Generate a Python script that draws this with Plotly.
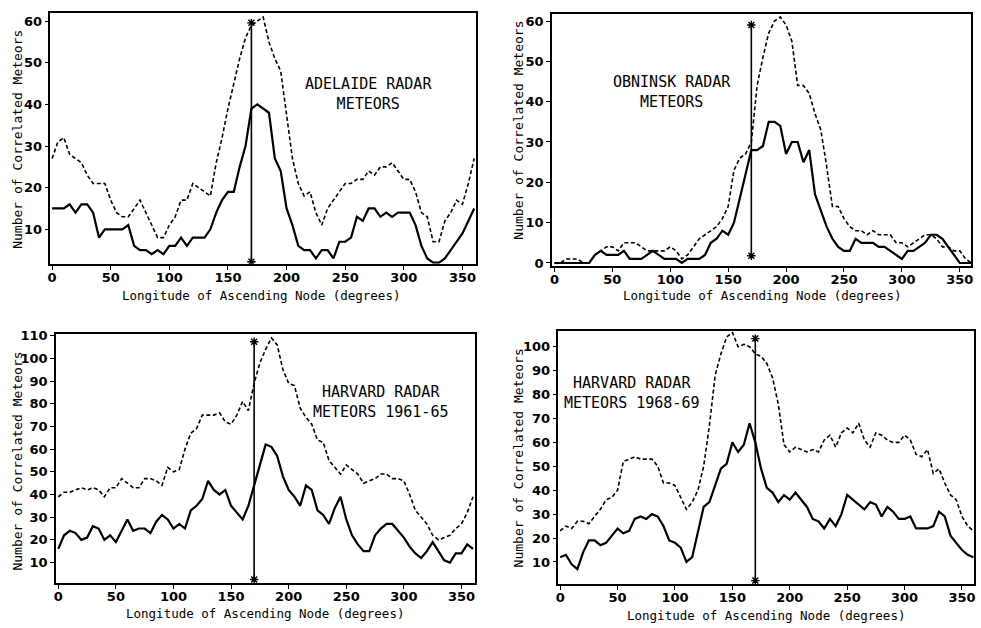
import plotly.graph_objects as go

LON = list(range(0, 365, 5))

adelaide_solid = [15, 15, 15, 16, 14, 16, 16, 14, 8, 10,
                  10, 10, 10, 11, 6, 5, 5, 4, 5, 4,
                  6, 6, 8, 6, 8, 8, 8, 10, 14, 17,
                  19, 19, 25, 30, 39, 40, 39, 38, 27, 24,
                  15, 11, 6, 5, 5, 3, 5, 5, 3, 7,
                  7, 8, 13, 12, 15, 15, 13, 14, 13, 14,
                  14, 14, 11, 6, 3, 2, 2, 3, 5, 7,
                  9, 12, 15]
adelaide_dashed = [27, 31, 32, 28, 27, 26, 23, 21, 21, 21,
                   17, 14, 13, 13, 15, 17, 14, 11, 8, 8,
                   11, 13, 17, 17, 21, 20, 19, 18, 26, 32,
                   39, 45, 51, 56, 59, 60, 61, 55, 51, 48,
                   37, 27, 21, 18, 19, 14, 11, 15, 17, 19,
                   21, 21, 22, 22, 24, 23, 25, 25, 26, 24,
                   22, 22, 19, 14, 13, 7, 7, 12, 14, 17,
                   16, 21, 27]

obninsk_solid = [0, 0, 0, 0, 0, 0, 0, 2, 3, 2,
                 2, 2, 3, 1, 1, 1, 2, 3, 2, 1,
                 1, 1, 0, 1, 1, 1, 2, 5, 6, 8,
                 7, 10, 16, 22, 28, 28, 29, 35, 35, 34,
                 27, 30, 30, 25, 28, 17, 13, 9, 6, 4,
                 3, 3, 6, 5, 5, 5, 4, 4, 3, 2,
                 1, 3, 3, 4, 5, 7, 7, 6, 4, 2,
                 0, 0, 0]
obninsk_dashed = [0, 0, 1, 1, 1, 0, 0, 2, 3, 4,
                  4, 3, 5, 5, 5, 4, 3, 3, 3, 3,
                  4, 3, 1, 2, 4, 6, 7, 8, 9, 11,
                  14, 23, 26, 27, 30, 44, 51, 57, 60, 61,
                  59, 55, 44, 44, 42, 37, 33, 24, 14, 14,
                  11, 9, 8, 8, 7, 8, 7, 7, 7, 5,
                  5, 4, 5, 6, 7, 7, 6, 4, 4, 3,
                  3, 1, 0]

harvard1_solid = [16, 22, 24, 23, 20, 21, 26, 25, 20, 22,
                  19, 24, 29, 24, 25, 25, 23, 28, 31, 29,
                  25, 27, 25, 33, 35, 38, 46, 42, 40, 42,
                  35, 32, 29, 35, 44, 53, 62, 61, 57, 48,
                  42, 39, 35, 44, 42, 33, 31, 27, 34, 39,
                  29, 22, 18, 15, 15, 22, 25, 27, 27, 24,
                  21, 17, 14, 12, 15, 19, 15, 11, 10, 14,
                  14, 18, 16]
harvard1_dashed = [39, 41, 41, 42, 43, 42, 43, 42, 39, 43,
                   43, 47, 45, 43, 43, 47, 47, 46, 44, 52,
                   50, 51, 60, 67, 69, 75, 75, 75, 76, 72,
                   71, 75, 81, 77, 89, 98, 104, 109, 106, 95,
                   89, 88, 78, 74, 71, 64, 63, 55, 52, 49,
                   53, 51, 49, 45, 46, 47, 49, 49, 47, 47,
                   46, 40, 33, 30, 27, 22, 20, 21, 22, 25,
                   27, 32, 39]

harvard2_solid = [12, 13, 9, 7, 14, 19, 19, 17, 18, 21,
                  24, 22, 23, 28, 29, 28, 30, 29, 25, 19,
                  18, 16, 10, 12, 22, 33, 35, 42, 49, 51,
                  60, 56, 59, 68, 60, 49, 41, 39, 35, 38,
                  36, 39, 36, 33, 28, 27, 24, 28, 25, 30,
                  38, 36, 34, 32, 35, 34, 29, 33, 31, 28,
                  28, 29, 24, 24, 24, 25, 31, 29, 21, 18,
                  15, 13, 12]
harvard2_dashed = [23, 25, 24, 27, 27, 26, 29, 32, 36, 37,
                   40, 52, 53, 54, 53, 53, 53, 50, 43, 43,
                   42, 37, 32, 35, 40, 50, 67, 88, 97, 104,
                   106, 100, 101, 100, 97, 96, 93, 87, 76, 59,
                   56, 58, 57, 56, 57, 56, 61, 63, 58, 64,
                   66, 64, 68, 61, 58, 64, 63, 61, 60, 60,
                   63, 61, 55, 54, 57, 47, 49, 43, 38, 36,
                   29, 25, 23]

NODE_LON = 170
PANELS = [
    dict(solid=adelaide_solid, dashed=adelaide_dashed,
         label="ADELAIDE RADAR<br>METEORS", ticks=[10, 20, 30, 40, 50, 60],
         node=[2.2, 59.6]),
    dict(solid=obninsk_solid, dashed=obninsk_dashed,
         label="OBNINSK RADAR<br>METEORS", ticks=[0, 10, 20, 30, 40, 50, 60],
         node=[1.8, 59.0]),
    dict(solid=harvard1_solid, dashed=harvard1_dashed,
         label="HARVARD RADAR<br>METEORS 1961-65", ticks=[10, 20, 30, 40, 50, 60, 70, 80, 90, 100, 110],
         node=[2.5, 107.3]),
    dict(solid=harvard2_solid, dashed=harvard2_dashed,
         label="HARVARD RADAR<br>METEORS 1968-69", ticks=[10, 20, 30, 40, 50, 60, 70, 80, 90, 100],
         node=[2.2, 103.4]),
]
X_TICKS = [0, 50, 100, 150, 200, 250, 300, 350]
X_TITLE = "Longitude of Ascending Node (degrees)"
Y_TITLE = "Number of Correlated Meteors"

# layout geometry
DOM_X = [[0.0486, 0.4842], [0.5624, 0.9922], [0.0543, 0.4832], [0.5691, 0.9949]]
DOM_Y = [[0.5812, 0.9873], [0.5780, 0.9852], [0.0648, 0.4682], [0.0632, 0.4718]]
X_RANGE = [[-1.4, 361.2], [-2.2, 360.0], [-2.0, 361.4], [-1.5, 360.5]]
Y_RANGE = [[1.7, 62.0], [-0.7, 61.7], [1.0, 110.9], [0.8, 106.4]]
LABEL_POS = [[270, 42.5], [101.7, 42.3], [279.6, 80.8], [62, 80.5]]
XT_POS = [[0.264, 0.5303], [0.7778, 0.5303], [0.268, 0.0154], [0.7815, 0.0127]]
YT_POS = [[0.0153, 0.7834], [0.5284, 0.7978], [0.0153, 0.2627], [0.5284, 0.2675]]

fig = go.Figure()
annotations = []
for i, p in enumerate(PANELS):
    n = "" if i == 0 else str(i + 1)
    xa, ya = "x" + n, "y" + n
    fig.add_trace(go.Scatter(x=LON, y=p["dashed"], mode="lines", xaxis=xa, yaxis=ya,
                             line=dict(color="black", width=1.6, dash="4px,2.5px"),
                             showlegend=False))
    fig.add_trace(go.Scatter(x=LON, y=p["solid"], mode="lines", xaxis=xa, yaxis=ya,
                             line=dict(color="black", width=2.2), showlegend=False))
    fig.add_trace(go.Scatter(x=[NODE_LON, NODE_LON], y=p["node"], mode="lines+markers",
                             xaxis=xa, yaxis=ya,
                             line=dict(color="black", width=1.6),
                             marker=dict(symbol="asterisk-open", size=7, color="black",
                                         line=dict(color="black", width=1.4)),
                             showlegend=False))
    axis_common = dict(showline=True, linecolor="black", linewidth=1.6, mirror=True,
                       showgrid=False, zeroline=False, ticks="outside", ticklen=4,
                       tickwidth=1.4, tickcolor="black",
                       tickfont=dict(family="DejaVu Sans", size=13, color="black", weight="bold"))
    fig.update_layout(**{
        "xaxis" + n: dict(domain=DOM_X[i], range=X_RANGE[i], anchor=ya,
                          tickvals=X_TICKS, ticklabelstandoff=-3, **axis_common),
        "yaxis" + n: dict(domain=DOM_Y[i], range=Y_RANGE[i], anchor=xa,
                          tickvals=p["ticks"], **axis_common),
    })
    annotations.append(dict(x=LABEL_POS[i][0], y=LABEL_POS[i][1], xref=xa, yref=ya,
                            text=p["label"], showarrow=False, align="center",
                            font=dict(family="DejaVu Sans Mono", size=15, color="black")))
    annotations.append(dict(x=XT_POS[i][0], y=XT_POS[i][1], xref="paper", yref="paper",
                            text=X_TITLE, showarrow=False, xanchor="center", yanchor="middle",
                            font=dict(family="DejaVu Sans Mono", size=12.5, color="black")))
    annotations.append(dict(x=YT_POS[i][0], y=YT_POS[i][1], xref="paper", yref="paper",
                            text=Y_TITLE, showarrow=False, textangle=-90,
                            xanchor="center", yanchor="middle",
                            font=dict(family="DejaVu Sans Mono", size=13, color="black")))

fig.update_layout(width=981, height=628, margin=dict(l=0, r=0, t=0, b=0),
                  paper_bgcolor="white", plot_bgcolor="white",
                  annotations=annotations)
fig.write_html("out.html", config={"displayModeBar": False},
               post_script="document.body.style.margin='0';document.body.style.padding='0';"
                           "document.body.style.overflow='hidden';")
